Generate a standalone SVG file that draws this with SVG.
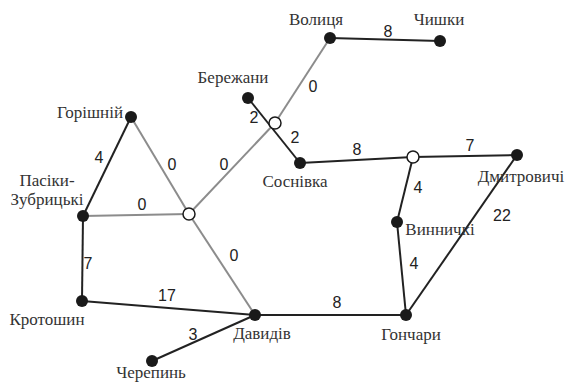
<svg xmlns="http://www.w3.org/2000/svg" width="568" height="382" viewBox="0 0 568 382">
<style>
.e{stroke:#222;stroke-width:2;fill:none}
.g{stroke:#8c8c8c;stroke-width:2;fill:none}
.n{fill:#1a1a1a}
.h{fill:#fff;stroke:#1a1a1a;stroke-width:1.5}
.t{font-family:"Liberation Serif","Times New Roman",serif;font-size:17px;fill:#333}
.w{font-family:"Liberation Sans",Arial,sans-serif;font-size:16px;fill:#222;text-anchor:middle}
</style>
<rect width="568" height="382" fill="#fff"/>
<g id="connectors">
<line class="g" x1="131" y1="117" x2="189" y2="214"/>
<line class="g" x1="83" y1="216" x2="189" y2="214"/>
<line class="g" x1="189" y1="214" x2="275" y2="123"/>
<line class="g" x1="189" y1="214" x2="255" y2="315"/>
<line class="g" x1="275" y1="123" x2="330" y2="38"/>
<line class="e" x1="131" y1="117" x2="83" y2="216"/>
<line class="e" x1="83" y1="216" x2="82" y2="301"/>
<line class="e" x1="82" y1="301" x2="255" y2="315"/>
<line class="e" x1="255" y1="315" x2="152" y2="361"/>
<line class="e" x1="255" y1="315" x2="406" y2="315"/>
<line class="e" x1="248" y1="98" x2="300" y2="163"/>
<line class="e" x1="330" y1="38" x2="440" y2="41"/>
<line class="e" x1="300" y1="163" x2="413" y2="157"/>
<line class="e" x1="413" y1="157" x2="517" y2="155"/>
<line class="e" x1="413" y1="157" x2="397" y2="222"/>
<line class="e" x1="397" y1="222" x2="406" y2="315"/>
<line class="e" x1="517" y1="155" x2="406" y2="315"/>
<text class="w" x="388" y="37">8</text>
<text class="w" x="313" y="92">0</text>
<text class="w" x="254" y="123">2</text>
<text class="w" x="295" y="143">2</text>
<text class="w" x="357" y="155">8</text>
<text class="w" x="470" y="151">7</text>
<text class="w" x="418" y="193">4</text>
<text class="w" x="414" y="269">4</text>
<text class="w" x="502" y="221">22</text>
<text class="w" x="337" y="308">8</text>
<text class="w" x="193" y="340">3</text>
<text class="w" x="167" y="301">17</text>
<text class="w" x="88" y="269">7</text>
<text class="w" x="142" y="210">0</text>
<text class="w" x="234" y="261">0</text>
<text class="w" x="99" y="163">4</text>
<text class="w" x="172" y="170">0</text>
<text class="w" x="224" y="170">0</text>
</g>
<g id="volytsia"><circle class="n" cx="330" cy="38" r="6"/><text class="t" x="316" y="25" text-anchor="middle">Волиця</text></g>
<g id="chyshky"><circle class="n" cx="440" cy="41" r="6"/><text class="t" x="439" y="25" text-anchor="middle">Чишки</text></g>
<g id="berezhany"><circle class="n" cx="248" cy="98" r="6"/><text class="t" x="233" y="83" text-anchor="middle">Бережани</text></g>
<g id="junction1"><circle class="h" cx="275" cy="123" r="6"/></g>
<g id="sosnivka"><circle class="n" cx="300" cy="163" r="6"/><text class="t" x="295" y="187" text-anchor="middle">Соснівка</text></g>
<g id="junction2"><circle class="h" cx="413" cy="157" r="6"/></g>
<g id="dmytrovychi"><circle class="n" cx="517" cy="155" r="6"/><text class="t" x="521" y="182" text-anchor="middle">Дмитровичі</text></g>
<g id="vynnychky"><circle class="n" cx="397" cy="222" r="6"/><text class="t" x="440" y="235" text-anchor="middle">Винничкі</text></g>
<g id="honchary"><circle class="n" cx="406" cy="315" r="6"/><text class="t" x="411" y="340" text-anchor="middle">Гончари</text></g>
<g id="davydiv"><circle class="n" cx="255" cy="315" r="6"/><text class="t" x="262" y="339" text-anchor="middle">Давидів</text></g>
<g id="cherepyn"><circle class="n" cx="152" cy="361" r="6"/><text class="t" x="151" y="378" text-anchor="middle">Черепинь</text></g>
<g id="krotoshyn"><circle class="n" cx="82" cy="301" r="6"/><text class="t" x="47" y="325" text-anchor="middle">Кротошин</text></g>
<g id="pasiky"><circle class="n" cx="83" cy="216" r="6"/><text class="t" x="47" y="186" text-anchor="middle">Пасіки-</text><text class="t" x="47" y="205" text-anchor="middle">Зубрицькі</text></g>
<g id="junction3"><circle class="h" cx="189" cy="214" r="6"/></g>
<g id="horishnii"><circle class="n" cx="131" cy="117" r="6"/><text class="t" x="123" y="118" text-anchor="end">Горішній</text></g>
</svg>
